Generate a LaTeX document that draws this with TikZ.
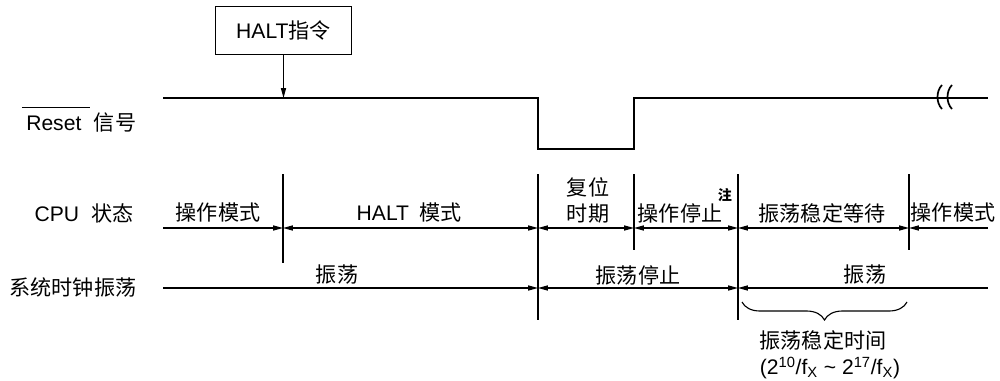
\documentclass[tikz,border=0pt]{standalone}
\usepackage{fontspec}
\setmainfont{Liberation Sans}
\newfontfamily\cjk{Noto Sans CJK SC}
\usetikzlibrary{arrows.meta,positioning,decorations.pathreplacing}

\begin{document}
\begin{tikzpicture}[x=0.025cm, y=-0.025cm,
    lbl/.style     = {inner sep=0pt, font=\fontsize{15}{18}\selectfont},
    cmdbox/.style  = {draw, line width=0.6pt, minimum width=3.42cm,
                      minimum height=1.2cm, inner sep=0pt,
                      font=\fontsize{15}{18}\selectfont},
    sig/.style     = {line width=1.8pt},
    divline/.style = {line width=0.9pt},
    span/.style    = {line width=0.9pt,
                      {Triangle[length=7pt,width=3.6pt]}-{Triangle[length=7pt,width=3.6pt]}},
    lspan/.style   = {line width=0.9pt, -{Triangle[length=7pt,width=3.6pt]}},
    rspan/.style   = {line width=0.9pt, {Triangle[length=7pt,width=3.6pt]}-}
  ]
    \useasboundingbox (0,0) rectangle (1000,381);

    % signal names
    \node[lbl, anchor=west] (rst) at (26,123) {Reset};
    \node[lbl, right=0.3cm of rst] (rsig) {\cjk 信号};
    \draw[line width=0.8pt] ([xshift=-0.1cm,yshift=0.2cm]rst.north west)
                         -- ([xshift=0.2cm,yshift=0.2cm]rst.north east);
    \node[lbl] (cpu) at (84,213) {CPU\hspace{0.3cm}{\cjk 状态}};
    \node[lbl] (clk) at (73,288) {\cjk 系统时钟振荡};

    % phase borders
    \foreach \n/\x/\yb in {a/283/263, b/538/320, c/634/250, d/738/320, e/909/250} {
      \coordinate (t\n) at (\x,174);
      \coordinate (b\n) at (\x,\yb);
      \draw[divline] (t\n) -- (b\n);
    }

    % reset line
    \coordinate (rs) at (163,98);
    \coordinate (re) at (988,98);
    \coordinate (rl) at (538,149);
    \draw[sig] (rs) -- (tb|-rs) -- (rl) -- (tc|-rl) -- (tc|-rs) -- (re);
    \foreach \bx in {942,952}
      \draw[line width=1.2pt] (\bx,85) .. controls (\bx-6,91) and (\bx-6,103) .. (\bx,109);

    \node[cmdbox] (halt) at (283.5,30) {HALT{\cjk 指令}};
    \draw[lspan] (halt.south) -- (halt.south|-rs);

    % CPU state
    \coordinate (cs) at (163,228);
    \coordinate (ce) at (988,228);
    \draw[lspan] (cs) -- (ta|-cs);
    \draw[span]  (ta|-cs) -- (tb|-cs);
    \draw[span]  (tb|-cs) -- (tc|-cs);
    \draw[span]  (tc|-cs) -- (td|-cs);
    \draw[span]  (td|-cs) -- (te|-cs);
    \draw[rspan] (te|-cs) -- (ce);

    \node[lbl] (op1)  at (218,213) {\cjk 操作模式};
    \node[lbl] (hmod) at (409,213) {HALT\hspace{0.25cm}{\cjk 模式}};
    \node[lbl, align=center, font=\fontsize{15}{18.5}\selectfont] (rper) at (588,200)
         {\cjk 复位\\\cjk 时期};
    \node[lbl] (stop) at (680,213) {\cjk 操作停止};
    \node[inner sep=0pt, font=\fontsize{10}{12}\selectfont\cjk\bfseries] (note) at (725,195) {注};
    \node[lbl] (wait) at (822,213) {\cjk 振荡稳定等待};
    \node[lbl] (op2)  at (953,213) {\cjk 操作模式};

    % clock
    \coordinate (ks) at (163,288);
    \coordinate (ke) at (988,288);
    \draw[lspan] (ks) -- (tb|-ks);
    \draw[span]  (tb|-ks) -- (td|-ks);
    \draw[rspan] (td|-ks) -- (ke);

    \node[lbl] (osc1)  at (337,275) {\cjk 振荡};
    \node[lbl] (oscst) at (638,275) {\cjk 振荡停止};
    \node[lbl] (osc2)  at (865,275) {\cjk 振荡};

    % stabilisation time
    \coordinate (bl) at (742,302);
    \coordinate (br) at (907,302);
    \draw[line width=0.8pt, decorate, decoration={brace, mirror, amplitude=0.45cm}] (bl) -- (br);
    \node[lbl] (sttm) at (823,340) {\cjk 振荡稳定时间};
    \node[lbl] (stfx) at (830,368)
         {(2\textsuperscript{10}/f\textsubscript{X} \textasciitilde{} 2\textsuperscript{17}/f\textsubscript{X})};
\end{tikzpicture}
\end{document}
